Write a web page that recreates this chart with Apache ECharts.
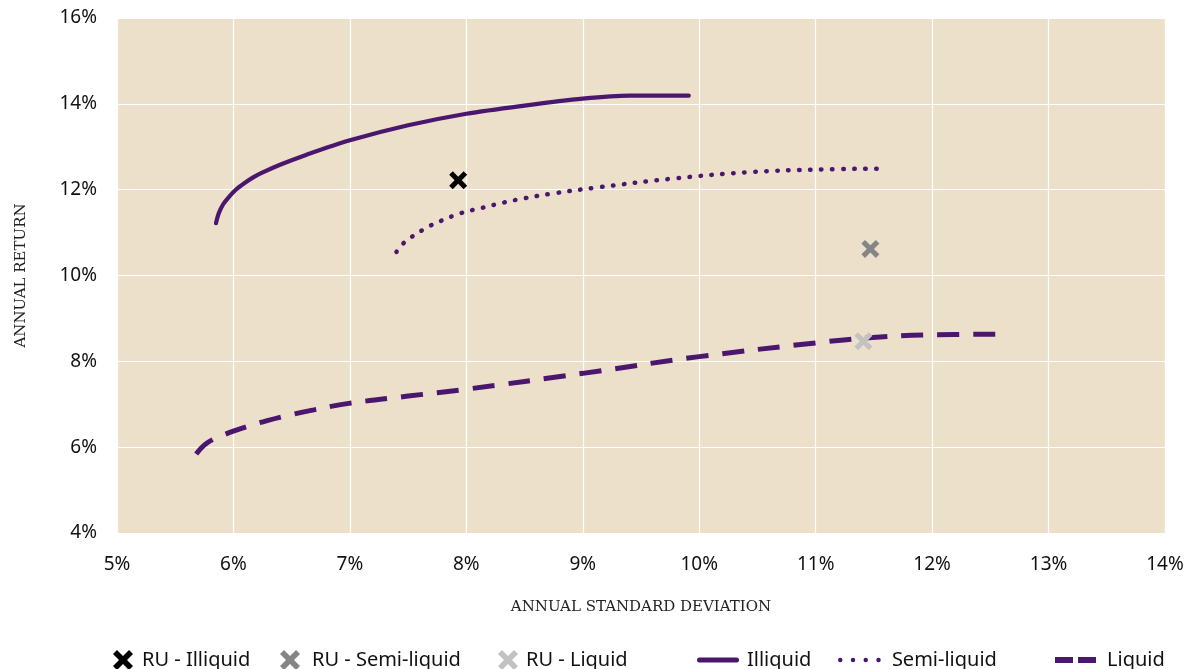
<!DOCTYPE html>
<html><head><meta charset="utf-8">
<script src="https://cdn.jsdelivr.net/npm/echarts@6/dist/echarts.min.js"></script>
<style>html,body{margin:0;padding:0;background:#fff}#c{width:1199px;height:669px}</style>
</head><body><div id="c"></div>
<script>
const xTicks = [5,6,7,8,9,10,11,12,13,14];
const yTicks = [4,6,8,10,12,14,16];
const illiquidX = [5.85,5.874,5.912,5.964,6.025,6.093,6.166,6.242,6.4,6.623,7.0,7.5,8.0,8.5,9.0,9.4,9.91];
const illiquidY = [11.22,11.45,11.66,11.84,12.01,12.15,12.28,12.39,12.58,12.81,13.15,13.5,13.77,13.96,14.12,14.19,14.19];
const semiX = [7.40,7.46,7.53,7.69,7.78,7.95,8.14,8.32,8.50,8.74,9.12,9.78,10.44,11.02,11.53];
const semiY = [10.55,10.75,10.9,11.16,11.27,11.45,11.58,11.7,11.8,11.91,12.05,12.26,12.41,12.47,12.49];
const liquidX = [5.68,5.77,5.91,6.13,6.29,6.5,6.69,6.99,7.5,8.0,9.0,10.0,11.0,11.42,12.0,12.59];
const liquidY = [5.84,6.09,6.28,6.49,6.62,6.76,6.87,7.02,7.19,7.35,7.72,8.11,8.43,8.54,8.62,8.63];
const ruNames = ['RU - Illiquid','RU - Semi-liquid','RU - Liquid'];
const ruX = [7.93,11.47,11.41];
const ruY = [12.22,10.62,8.47];

const purple = '#4b176e';
const ruColors = ['#000000','#858585','#c2c2c2'];
const X = 'path://M4,0 L10,6 L16,0 L20,4 L14,10 L20,16 L16,20 L10,14 L4,20 L0,16 L6,10 L0,4 Z';
const font = 'Noto Sans';
const zip = (a,b)=>a.map((v,i)=>[v,b[i]]);

const series = [];
ruNames.forEach((n,i)=>{
  series.push({name:n,type:'scatter',symbol:X,symbolSize:18,z:5,
    itemStyle:{color:ruColors[i],opacity:1},data:[[ruX[i],ruY[i]]]});
});
series.push({name:'Illiquid',type:'line',smooth:0.3,symbol:'none',data:zip(illiquidX,illiquidY),
  lineStyle:{color:purple,width:4.2,cap:'round',join:'round'},itemStyle:{color:purple}});
series.push({name:'Semi-liquid',type:'line',smooth:0.4,symbol:'none',data:zip(semiX,semiY),
  lineStyle:{color:purple,width:4.5,type:[0.5,10.5],cap:'round'},itemStyle:{color:purple}});
series.push({name:'Liquid',type:'line',smooth:0.4,symbol:'none',data:zip(liquidX,liquidY),
  lineStyle:{color:purple,width:5,type:[22,14]},itemStyle:{color:purple}});

const solidIcon = 'path://M2.5,0 H39.5 A2.5,2.5 0 0 1 39.5,5 H2.5 A2.5,2.5 0 0 1 2.5,0 Z';
const dotIcon = 'path://M0,2.25 A2.25,2.25 0 1 0 4.5,2.25 A2.25,2.25 0 1 0 0,2.25 Z M12.75,2.25 A2.25,2.25 0 1 0 17.25,2.25 A2.25,2.25 0 1 0 12.75,2.25 Z M25.5,2.25 A2.25,2.25 0 1 0 30,2.25 A2.25,2.25 0 1 0 25.5,2.25 Z M38.25,2.25 A2.25,2.25 0 1 0 42.75,2.25 A2.25,2.25 0 1 0 38.25,2.25 Z';
const dashIcon = 'path://M0,0 H18 V6 H0 Z M23,0 H41 V6 H23 Z';

const legendPos = [
  {n:'RU - Illiquid',left:108,w:20,h:20,pad:4},
  {n:'RU - Semi-liquid',left:275,w:20,h:20,pad:7},
  {n:'RU - Liquid',left:493,w:20,h:20,pad:3},
  {n:'Illiquid',left:692,w:42,h:5,pad:3,icon:solidIcon},
  {n:'Semi-liquid',left:833,w:43,h:4.5,pad:6,icon:dotIcon},
  {n:'Liquid',left:1050,w:41,h:6,pad:6,icon:dashIcon}
];
const legends = legendPos.map(l=>{
  const d = {name:l.n};
  if (l.icon) { d.icon = l.icon; d.itemStyle = {color:purple,borderWidth:0}; }
  return {data:[d],left:l.left,top:645,itemWidth:l.w,itemHeight:l.h,itemGap:0,selectedMode:false,
    textStyle:{fontFamily:font,fontSize:20,color:'#111',padding:[0,0,0,l.pad]}};
});

const chart = echarts.init(document.getElementById('c'),null,{renderer:'canvas'});
chart.setOption({
  animation:false,
  grid:{left:117,right:34,top:18,bottom:136,show:true,backgroundColor:'#ece0ca',borderWidth:0},
  legend:legends,
  xAxis:{type:'value',min:5,max:14,interval:1,
    name:'ANNUAL STANDARD DEVIATION',nameLocation:'middle',nameGap:67,
    nameTextStyle:{fontFamily:'DejaVu Serif',fontSize:15,color:'#222'},
    axisLine:{show:false},axisTick:{show:false},
    splitLine:{lineStyle:{color:'#ffffff',width:1.2}},
    axisLabel:{formatter:v=>xTicks.includes(v)?v+'%':'',margin:22,fontFamily:font,fontSize:19,color:'#111'}},
  yAxis:{type:'value',min:4,max:16,interval:2,
    name:'ANNUAL RETURN',nameLocation:'middle',nameGap:88,
    nameTextStyle:{fontFamily:'DejaVu Serif',fontSize:15,color:'#222'},
    axisLine:{show:false},axisTick:{show:false},
    splitLine:{lineStyle:{color:'#ffffff',width:1.2}},
    axisLabel:{formatter:v=>yTicks.includes(v)?v+'%':'',margin:20,fontFamily:font,fontSize:19,color:'#111'}},
  series:series
});
</script></body></html>
